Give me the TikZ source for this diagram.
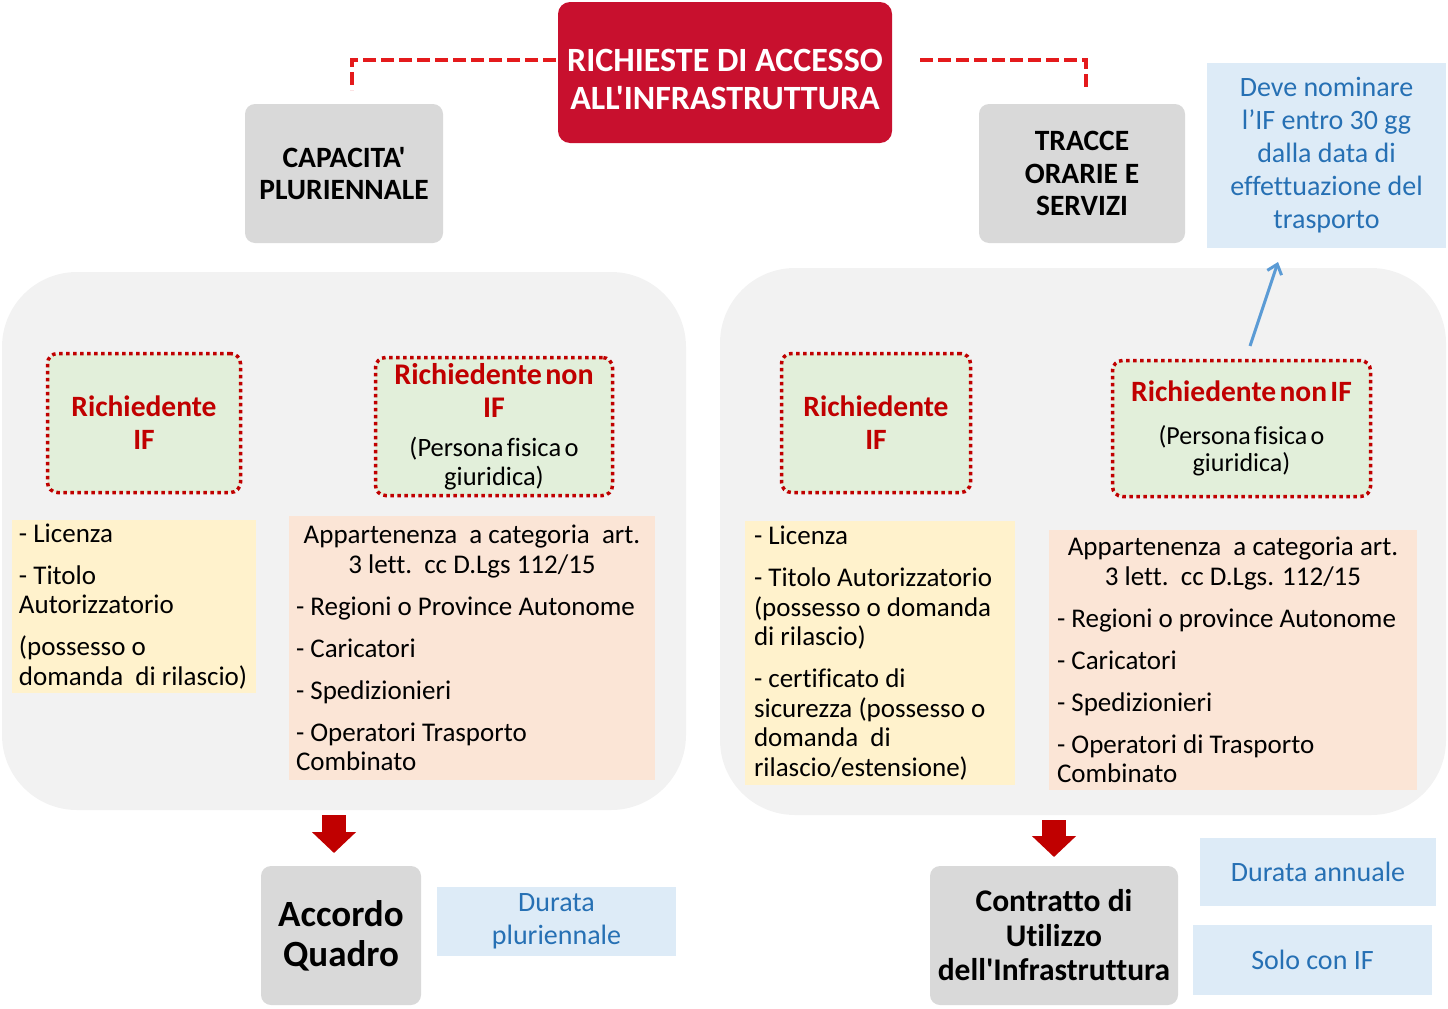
\documentclass[tikz,border=0pt]{standalone}
\usepackage{fontspec}
\newfontfamily\carlito{Carlito}[Ligatures=NoCommon]
\usetikzlibrary{arrows.meta,calc}
\definecolor{titlered}{RGB}{200,16,46}
\definecolor{dashred}{RGB}{228,26,28}
\definecolor{boxgray}{RGB}{217,217,217}
\definecolor{panelgray}{RGB}{242,242,242}
\definecolor{greenfill}{RGB}{226,239,218}
\definecolor{darkred}{RGB}{192,0,0}
\definecolor{yellowfill}{RGB}{255,242,204}
\definecolor{peachfill}{RGB}{251,229,214}
\definecolor{lightblue}{RGB}{221,235,247}
\definecolor{bluetext}{RGB}{38,112,180}
\definecolor{arrowblue}{RGB}{91,155,213}
\newcommand\fsz[2]{\fontsize{#1}{#2}\selectfont}
\begin{document}
\begin{tikzpicture}[x=1pt,y=-1pt,
  every node/.style={inner sep=0pt, font=\carlito},
  titlebox/.style={fill=titlered, rounded corners=12pt, text=white, align=center, font=\carlito\bfseries\fsz{34}{38}},
  graybox/.style={fill=boxgray, rounded corners=10pt, align=center},
  bluebox/.style={fill=lightblue, align=center, text=bluetext, font=\carlito\fsz{28}{33}},
  panel/.style={fill=panelgray, rounded corners=75pt},
  dotbox/.style={fill=greenfill, draw=darkred, line width=3.5pt, dash pattern=on 3.5pt off 3.5pt, rounded corners=10pt},
  listbox/.style={align=left, font=\carlito\fsz{27}{29.5}},
  dashline/.style={draw=dashred, line width=3.5pt, dash pattern=on 13pt off 5pt},
  blockarrow/.style={draw=darkred, line width=24pt, -{Triangle[width=43pt,length=21pt]}},
  thinarrow/.style={draw=arrowblue, line width=3pt, -{Straight Barb[width=15pt,length=9pt]}}
]
\useasboundingbox (0,0) rectangle (1448,1009);

% panels
\node[panel, minimum width=684pt, minimum height=538pt] (lpan) at (344,541) {};
\node[panel, minimum width=726pt, minimum height=547pt] (rpan) at (1083,541.5) {};

% top
\node[titlebox, minimum width=334pt, minimum height=141pt] (title) at (725,72.5) {\rule{0pt}{37pt}RICHIESTE DI ACCESSO\\ALL'INFRASTRUTTURA};
\node[graybox, font=\carlito\bfseries\fsz{29.5}{32}, minimum width=198pt, minimum height=139pt] (cap) at (344,173.5) {CAPACITA'\\PLURIENNALE};
\node[graybox, font=\carlito\bfseries\fsz{29.5}{32.5}, minimum width=206pt, minimum height=139pt] (tracce) at (1082,173.5) {TRACCE\\ORARIE E\\SERVIZI};
\node[bluebox, minimum width=239pt, minimum height=185pt] (deve) at (1326.5,155.5) {Deve nominare\\l’IF entro 30 gg\\dalla data di\\effettuazione del\\trasporto};

\coordinate (dls) at (556,60);
\coordinate (dle) at (352,90);
\coordinate (drs) at (920,60);
\coordinate (dre) at (1086,90);
\draw[dashline] (dls) -| (dle);
\draw[dashline] (drs) -| (dre);

% dotted boxes
\node[dotbox, minimum width=193pt, minimum height=139pt, align=center, text=darkred, font=\carlito\bfseries\fsz{29.5}{33}] (lrif) at (144,423) {Richiedente\\IF};
\node[dotbox, minimum width=237pt, minimum height=138pt, text width=232pt, execute at begin node={\parindent=0pt\centering}] (lrnon) at (494,426.5)
  {{\bfseries\fsz{30}{33}\textcolor{darkred}{Richiedente non}\\\textcolor{darkred}{IF}\par}\vspace{10pt}{\fsz{26.5}{29}(Persona fisica o\\giuridica)\par}};
\node[dotbox, minimum width=189pt, minimum height=139pt, align=center, text=darkred, font=\carlito\bfseries\fsz{29.5}{33}] (rrif) at (876,423) {Richiedente\\IF};
\node[dotbox, minimum width=258pt, minimum height=136pt, text width=252pt, execute at begin node={\parindent=0pt\centering}] (rrnon) at (1241.5,428.5)
  {{\bfseries\fsz{29.5}{31}\textcolor{darkred}{Richiedente non IF}\par}\vspace{16pt}{\fsz{26}{27}(Persona fisica o\\giuridica)\par}};

% list boxes
\node[listbox, fill=yellowfill, minimum width=244pt, minimum height=173pt] (ly) at (134,606.5)
  {\makebox[230pt][l]{- Licenza}\\[12.5pt]- Titolo\\Autorizzatorio\\[12.5pt](possesso o\\domanda\ \ di rilascio)};
\node[listbox, fill=peachfill, minimum width=366pt, minimum height=264pt] (lp) at (472,648)
  {\makebox[352pt][c]{Appartenenza\ \ a categoria\ \ art.}\\\makebox[352pt][c]{3 lett.\ \ cc D.Lgs 112/15}\\[12.5pt]- Regioni o Province Autonome\\[12.5pt]- Caricatori\\[12.5pt]- Spedizionieri\\[12.5pt]- Operatori Trasporto\\Combinato};
\node[listbox, fill=yellowfill, minimum width=270pt, minimum height=264pt] (ry) at (880,653)
  {\makebox[252pt][l]{- Licenza}\\[12.5pt]- Titolo Autorizzatorio\\(possesso o domanda\\di rilascio)\\[12.5pt]- certificato di\\sicurezza (possesso o\\domanda\ \ di\\rilascio/estensione)};
\node[listbox, fill=peachfill, minimum width=368pt, minimum height=260pt] (rp) at (1233,660)
  {\makebox[352pt][c]{Appartenenza\ \ a categoria art.}\\\makebox[352pt][c]{3 lett.\ \ cc D.Lgs. 112/15}\\[12.5pt]- Regioni o province Autonome\\[12.5pt]- Caricatori\\[12.5pt]- Spedizionieri\\[12.5pt]- Operatori di Trasporto\\Combinato};

% blue arrow
\coordinate (ba1) at (1250,346);
\coordinate (ba2) at (1278,262);
\draw[thinarrow] (ba1) -- (ba2);

% bottom
\node[graybox, font=\carlito\bfseries\fsz{37}{40}, minimum width=160pt, minimum height=139pt] (aq) at (341,935.5) {Accordo\\Quadro};
\node[bluebox, minimum width=239pt, minimum height=69pt] (dp) at (556.5,921.5) {Durata\\pluriennale};
\node[graybox, font=\carlito\bfseries\fsz{31.5}{34.5}, minimum width=248pt, minimum height=139pt] (cu) at (1054,935.5) {Contratto di\\Utilizzo\\dell'Infrastruttura};
\node[bluebox, minimum width=236pt, minimum height=68pt] (da) at (1318,872) {Durata annuale};
\node[bluebox, minimum width=239pt, minimum height=70pt] (si) at (1312.5,960) {Solo con IF};

\coordinate (la1) at (334,815);
\coordinate (la2) at (334,853);
\coordinate (ra1) at (1054,820);
\coordinate (ra2) at (1054,857);
\draw[blockarrow] (la1) -- (la2);
\draw[blockarrow] (ra1) -- (ra2);
\end{tikzpicture}
\end{document}
